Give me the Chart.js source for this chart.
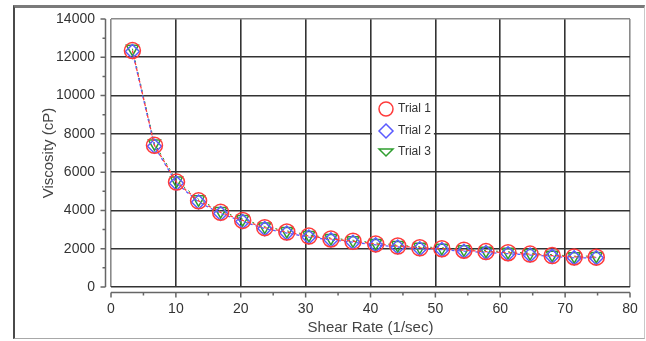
<!DOCTYPE html>
<html>
<head>
<meta charset="utf-8">
<script src="https://cdn.jsdelivr.net/npm/chart.js@4.4.1/dist/chart.umd.min.js"></script>
<style>
  html, body { margin: 0; padding: 0; background: #fff; }
  #frame {
    position: absolute; left: 13px; top: 5px; width: 632px; height: 334px;
    box-sizing: border-box;
    border-top: 3px solid #7a7a7a; border-left: 2px solid #4a4a4a;
    border-right: 1px solid #c8c8c8; border-bottom: 1px solid #a8a8a8;
  }
  #myChart { position: absolute; left: 0; top: 0; }
</style>
</head>
<body>
<div id="frame"></div>
<canvas id="myChart" width="646" height="341"></canvas>
<script>
  var shearRate = [3.3, 6.7, 10.1, 13.5, 16.9, 20.3, 23.7, 27.1, 30.5, 33.9, 37.3,
                   40.8, 44.2, 47.6, 51.0, 54.4, 57.8, 61.2, 64.6, 68.0, 71.4, 74.8];
  var trial1 = [12350, 7400, 5480, 4500, 3900, 3480, 3100, 2870, 2660, 2510, 2390,
                2250, 2140, 2050, 2000, 1920, 1850, 1790, 1720, 1640, 1570, 1560];
  var trial2 = [12300, 7350, 5420, 4440, 3840, 3420, 3050, 2820, 2610, 2460, 2340,
                2200, 2090, 2000, 1950, 1870, 1800, 1740, 1670, 1600, 1520, 1530];
  var trial3 = [12450, 7500, 5560, 4580, 3970, 3550, 3160, 2930, 2720, 2560, 2440,
                2300, 2190, 2100, 2050, 1970, 1900, 1840, 1770, 1690, 1610, 1620];
  var seriesNames = ["Trial 1", "Trial 2", "Trial 3"];
  var xTickValues = [0, 10, 20, 30, 40, 50, 60, 70, 80];
  var yTickValues = [0, 2000, 4000, 6000, 8000, 10000, 12000, 14000];

  var red = "#ff3b3b", blue = "#5a5aff", green = "#2f9e2f";
  var font = "Liberation Sans, Arial, sans-serif";

  function pts(ys) {
    return ys.map(function (v, i) { return { x: shearRate[i], y: v }; });
  }

  function gridColor(lo, hi, darkLo) {
    return function (ctx) {
      var v = ctx.tick ? ctx.tick.value : null;
      if (v === hi) return "#8a8a8a";
      if (v === lo && !darkLo) return "#8a8a8a";
      return "#333";
    };
  }

  function plain(v) { return String(v); }

  // axes drawn a few pixels away from the plot, like the original
  var offsetAxes = {
    id: "offsetAxes",
    afterDraw: function (c) {
      var ctx = c.ctx, a = c.chartArea, xs = c.scales.x, ys = c.scales.y;
      ctx.save();
      ctx.strokeStyle = "#666";
      ctx.lineWidth = 1.5;
      ctx.beginPath();
      var ay = a.bottom + 5.5;
      ctx.moveTo(a.left, ay); ctx.lineTo(a.right, ay);
      xs.ticks.forEach(function (t, i) {
        var px = xs.getPixelForValue(t.value);
        ctx.moveTo(px, ay); ctx.lineTo(px, ay + 5);
        if (i < xs.ticks.length - 1) {
          var mx = xs.getPixelForValue((t.value + xs.ticks[i + 1].value) / 2);
          ctx.moveTo(mx, ay); ctx.lineTo(mx, ay + 3);
        }
      });
      var ax = a.left - 5.5;
      ctx.moveTo(ax, a.top); ctx.lineTo(ax, a.bottom);
      ys.ticks.forEach(function (t, i) {
        var py = ys.getPixelForValue(t.value);
        ctx.moveTo(ax, py); ctx.lineTo(ax - 5, py);
        if (i < ys.ticks.length - 1) {
          var my = ys.getPixelForValue((t.value + ys.ticks[i + 1].value) / 2);
          ctx.moveTo(ax, my); ctx.lineTo(ax - 3, my);
        }
      });
      ctx.stroke();
      ctx.restore();
    }
  };

  var boxLegend = {
    id: "boxLegend",
    afterDatasetsDraw: function (c) {
      var ctx = c.ctx, xs = c.scales.x;
      var l = xs.getPixelForValue(40) + 1.5, r = xs.getPixelForValue(50) - 1.5;
      ctx.save();
      ctx.fillStyle = "#fff";
      ctx.fillRect(l, 98, r - l, 67);
      var cx = l + 14, rows = [109, 131, 152];
      ctx.lineWidth = 1.5;
      ctx.strokeStyle = red;
      ctx.beginPath(); ctx.arc(cx, rows[0], 7, 0, Math.PI * 2); ctx.stroke();
      ctx.strokeStyle = blue;
      ctx.beginPath();
      ctx.moveTo(cx, rows[1] - 7); ctx.lineTo(cx + 7, rows[1]);
      ctx.lineTo(cx, rows[1] + 7); ctx.lineTo(cx - 7, rows[1]); ctx.closePath(); ctx.stroke();
      ctx.strokeStyle = green;
      ctx.beginPath();
      ctx.moveTo(cx - 7, rows[2] - 3); ctx.lineTo(cx + 7, rows[2] - 3);
      ctx.lineTo(cx, rows[2] + 4); ctx.closePath(); ctx.stroke();
      ctx.fillStyle = "#333";
      ctx.font = "12px " + font;
      ctx.textBaseline = "middle";
      seriesNames.forEach(function (n, i) { ctx.fillText(n, cx + 12, rows[i]); });
      ctx.restore();
    }
  };

  new Chart(document.getElementById("myChart"), {
    type: "line",
    data: {
      datasets: [
        { label: seriesNames[0], data: pts(trial1), borderColor: red, backgroundColor: "rgba(0,0,0,0)",
          borderWidth: 1.3, borderDash: [3, 3], pointStyle: "circle", pointRadius: 8,
          pointBorderWidth: 1.5, pointBorderColor: red },
        { label: seriesNames[1], data: pts(trial2), borderColor: blue, backgroundColor: "rgba(0,0,0,0)",
          borderWidth: 1.3, borderDash: [3, 3], borderDashOffset: 3, pointStyle: "rectRot", pointRadius: 7,
          pointBorderWidth: 1.5, pointBorderColor: blue },
        { label: seriesNames[2], data: pts(trial3), borderColor: green, backgroundColor: "rgba(0,0,0,0)",
          borderWidth: 1, borderDash: [2, 4], pointStyle: "triangle", pointRotation: 180, pointRadius: 7,
          pointBorderWidth: 1.5, pointBorderColor: green }
      ]
    },
    options: {
      responsive: false,
      animation: false,
      devicePixelRatio: 1,
      layout: { padding: { left: 40, top: 19, right: 16, bottom: 4 } },
      plugins: { legend: { display: false }, tooltip: { enabled: false } },
      scales: {
        x: {
          type: "linear", min: xTickValues[0], max: xTickValues[xTickValues.length - 1],
          afterBuildTicks: function (s) { s.ticks = xTickValues.map(function (v) { return { value: v }; }); },
          afterFit: function (s) { s.height = 50; s.paddingLeft = 0; s.paddingRight = 0; },
          border: { display: false },
          grid: { color: gridColor(0, 80, false), lineWidth: 1.6, drawTicks: false },
          ticks: { padding: 14, color: "#333", font: { family: font, size: 14 }, maxRotation: 0, callback: plain },
          title: { display: true, text: "Shear Rate (1/sec)", color: "#444", padding: 0,
                   font: { family: font, size: 15 } }
        },
        y: {
          min: yTickValues[0], max: yTickValues[yTickValues.length - 1],
          afterBuildTicks: function (s) { s.ticks = yTickValues.map(function (v) { return { value: v }; }); },
          afterFit: function (s) { s.width = 71; s.paddingTop = 0; s.paddingBottom = 0; },
          border: { display: false },
          grid: { color: gridColor(0, 14000, true), lineWidth: 1.6, drawTicks: false },
          ticks: { padding: 16, color: "#333", font: { family: font, size: 14 }, callback: plain },
          title: { display: true, text: "Viscosity (cP)", color: "#444", padding: 0,
                   font: { family: font, size: 15 } }
        }
      }
    },
    plugins: [offsetAxes, boxLegend]
  });
</script>
</body>
</html>
